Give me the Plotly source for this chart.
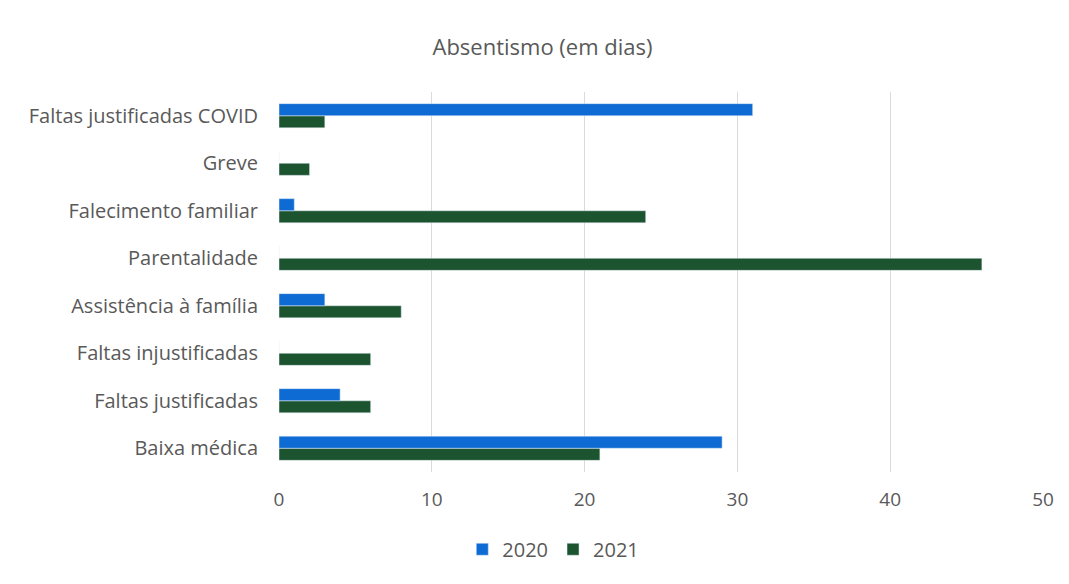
import plotly.graph_objects as go

categories = ["Baixa médica", "Faltas justificadas", "Faltas injustificadas",
              "Assistência à família", "Parentalidade", "Falecimento familiar",
              "Greve", "Faltas justificadas COVID"]
values_2020 = [29, 4, 0, 3, 0, 1, 0, 31]
values_2021 = [21, 6, 6, 8, 46, 24, 2, 3]

fig = go.Figure()
fig.add_trace(go.Bar(y=categories, x=values_2021, name="2021", orientation="h",
                     marker_color="#1d5430"))
fig.add_trace(go.Bar(y=categories, x=values_2020, name="2020", orientation="h",
                     marker_color="#0f6bd4"))

fig.update_layout(
    width=1069, height=584,
    paper_bgcolor="white", plot_bgcolor="white",
    margin=dict(l=271, r=34, t=84, b=120),
    barmode="group", bargap=0.49, bargroupgap=0,
    font=dict(family="Open Sans, Liberation Sans, sans-serif", size=20, color="#595959"),
    title=dict(text="Absentismo (em dias)", x=0.5, xanchor="center", y=0.932, yanchor="middle",
               font=dict(size=22, color="#595959")),
    legend=dict(orientation="h", x=0.359, xanchor="center",
                y=-0.152, yanchor="top",
                traceorder="reversed", font=dict(size=20, color="#595959"),
                itemwidth=30),
    xaxis=dict(range=[0, 50], dtick=10, showgrid=True, gridcolor="#dadada", gridwidth=1,
               zeroline=False, showline=False, ticks="", tickfont=dict(size=19),
               ticklabelstandoff=14, automargin=False),
    yaxis=dict(showgrid=False, ticks="", ticklabelstandoff=20, tickfont=dict(size=20),
               automargin=False),
)
fig.write_html("out.html")
